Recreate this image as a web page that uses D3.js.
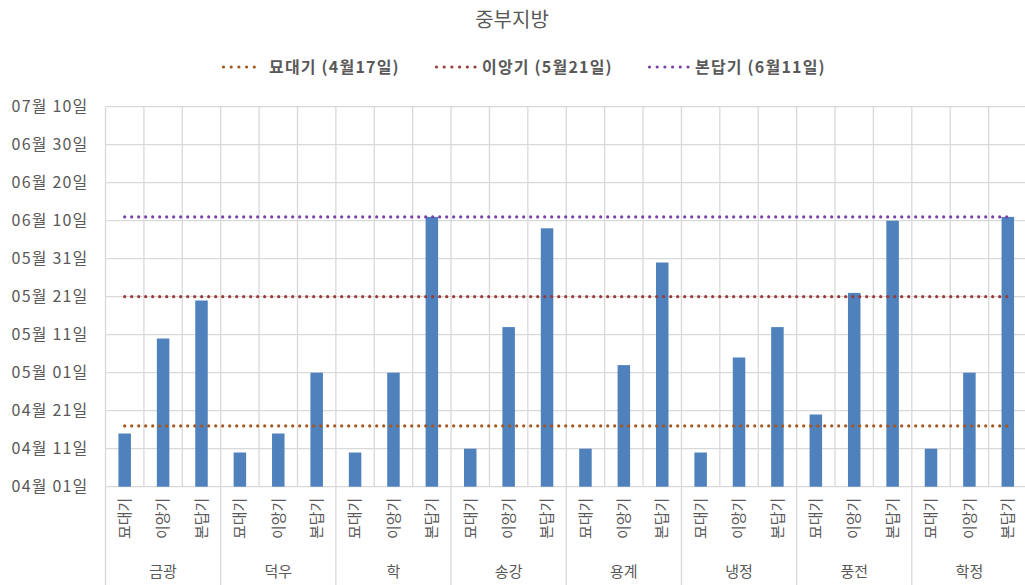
<!DOCTYPE html>
<html>
<head>
<meta charset="utf-8">
<script src="https://cdn.jsdelivr.net/npm/d3@7"></script>
<style>
  body { margin: 0; background: #fff; }
  svg { font-family: "Noto Sans CJK KR", "Noto Sans", sans-serif; }
</style>
</head>
<body>
<div id="chart"></div>
<script>
const width = 1025;
const height = 585;

// stations (groups) and growth stages
const groups = ['금광', '덕우', '학', '송강', '용계', '냉정', '풍전', '학정'];
const stages = ['묘대기', '이앙기', '본답기'];

// dates per station, one array per stage (MM-DD)
const seedlingDates = ['04-15', '04-10', '04-10', '04-11', '04-11', '04-10', '04-20', '04-11'];
const transplantDates = ['05-10', '04-15', '05-01', '05-13', '05-03', '05-05', '05-22', '05-01'];
const paddyDates = ['05-20', '05-01', '06-11', '06-08', '05-30', '05-13', '06-10', '06-11'];

// reference lines
const refLabels = ['묘대기 (4월17일)', '이앙기 (5월21일)', '본답기 (6월11일)'];
const refDates = ['04-17', '05-21', '06-11'];
const refColors = ['#A4561E', '#983B39', '#7A3FA8'];

const axisStart = '04-01';
const axisEnd = '07-10';

const parse = s => d3.timeParse('%Y-%m-%d')('2021-' + s);
const fmt = d3.timeFormat('%m월 %d일');

const plot = {left: 105.5, right: 1027, top: 106.7, bottom: 486.7};

const svg = d3.select('#chart')
  .append('svg')
  .attr('width', width)
  .attr('height', height);

// flatten into one row per bar
const stageDates = [seedlingDates, transplantDates, paddyDates];
const rows = [];
groups.forEach((g, gi) => {
  stages.forEach((s, si) => {
    rows.push({key: g + '-' + s, group: g, stage: s, date: parse(stageDates[si][gi])});
  });
});

const xscale = d3.scaleBand()
  .domain(rows.map(d => d.key))
  .range([plot.left, plot.right])
  .padding(0);

const yscale = d3.scaleTime()
  .domain([parse(axisStart), parse(axisEnd)])
  .range([plot.bottom, plot.top]);

const tickValues = d3.range(0, 101, 10).map(n => d3.timeDay.offset(parse(axisStart), n));

// horizontal gridlines
svg.append('g')
  .selectAll('line')
  .data(tickValues)
  .enter()
  .append('line')
  .attr('x1', plot.left)
  .attr('x2', plot.right)
  .attr('y1', d => yscale(d))
  .attr('y2', d => yscale(d))
  .attr('stroke', '#d9d9d9')
  .attr('stroke-width', 1.3);

// vertical gridlines between categories
const step = xscale.step();
const bounds = d3.range(rows.length + 1);
svg.append('g')
  .selectAll('line')
  .data(bounds)
  .enter()
  .append('line')
  .attr('x1', i => plot.left + i * step)
  .attr('x2', i => plot.left + i * step)
  .attr('y1', plot.top)
  .attr('y2', i => i % 3 === 0 ? height : plot.bottom)
  .attr('stroke', '#d9d9d9')
  .attr('stroke-width', 1.3);

// y axis labels
const yaxis = d3.axisLeft(yscale).tickValues(tickValues).tickFormat(fmt).tickSize(0).tickPadding(17);
const yg = svg.append('g')
  .attr('transform', 'translate(' + plot.left + ',0)')
  .call(yaxis);
yg.select('.domain').remove();
yg.selectAll('text')
  .attr('font-size', 16)
  .attr('letter-spacing', 1.2)
  .attr('fill', '#595959')
  .attr('font-family', '"Noto Sans CJK KR", sans-serif');

// bars
const barWidth = 12.5;
svg.append('g')
  .selectAll('rect')
  .data(rows)
  .enter()
  .append('rect')
  .attr('x', d => xscale(d.key) + step / 2 - barWidth / 2)
  .attr('y', d => yscale(d.date))
  .attr('width', barWidth)
  .attr('height', d => plot.bottom - yscale(d.date))
  .attr('fill', '#4F81BD');

// category labels (rotated)
svg.append('g')
  .selectAll('text')
  .data(rows)
  .enter()
  .append('text')
  .attr('transform', d => 'translate(' + (xscale(d.key) + step / 2) + ',' + (plot.bottom + 11) + ') rotate(-90)')
  .attr('text-anchor', 'end')
  .attr('dy', '0.35em')
  .attr('font-size', 15)
  .attr('fill', '#595959')
  .text(d => d.stage);

// group labels
svg.append('g')
  .selectAll('text')
  .data(groups)
  .enter()
  .append('text')
  .attr('x', (g, i) => plot.left + (i * 3 + 1.5) * step)
  .attr('y', 572)
  .attr('dy', '0.35em')
  .attr('text-anchor', 'middle')
  .attr('font-size', 15)
  .attr('fill', '#595959')
  .text(g => g);

// reference lines, across category centers
const firstX = xscale(rows[0].key) + step / 2;
const lastX = xscale(rows[rows.length - 1].key) + step / 2;
const refLine = d3.line().x(d => d[0]).y(d => d[1]);
refDates.forEach((r, i) => {
  const y = yscale(parse(r));
  svg.append('path')
    .datum([[firstX, y], [lastX, y]])
    .attr('d', refLine)
    .attr('fill', 'none')
    .attr('stroke', refColors[i])
    .attr('stroke-width', 3.2)
    .attr('stroke-linecap', 'round')
    .attr('stroke-dasharray', '0,7');
});

// title
svg.append('text')
  .attr('x', 512)
  .attr('y', 20)
  .attr('dy', '0.35em')
  .attr('text-anchor', 'middle')
  .attr('font-size', 20)
  .attr('fill', '#595959')
  .text('중부지방');

// legend
const legendStarts = [222, 435, 648];
const legend = svg.append('g');
refLabels.forEach((label, i) => {
  const x0 = legendStarts[i];
  legend.append('line')
    .attr('x1', x0 + 1.5)
    .attr('x2', x0 + 40)
    .attr('y1', 67)
    .attr('y2', 67)
    .attr('stroke', refColors[i])
    .attr('stroke-width', 3.2)
    .attr('stroke-linecap', 'round')
    .attr('stroke-dasharray', '0,7.7');
  legend.append('text')
    .attr('x', x0 + 47)
    .attr('y', 67)
    .attr('dy', '0.35em')
    .attr('font-size', 16)
    .attr('letter-spacing', 1.2)
    .attr('font-weight', 'bold')
    .attr('fill', '#595959')
    .text(label);
});
</script>
</body>
</html>
